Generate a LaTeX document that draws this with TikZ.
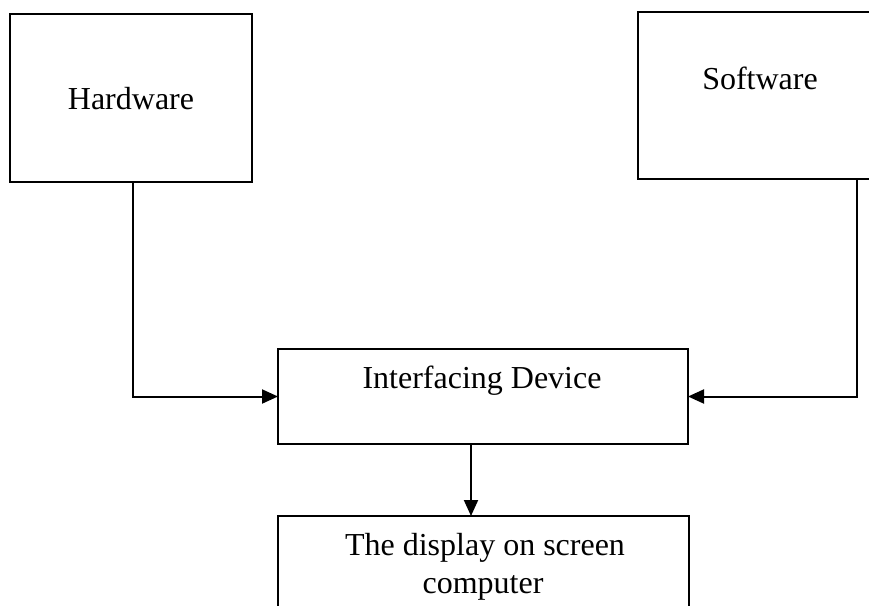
\documentclass[tikz,border=0pt]{standalone}
\usepackage{fontspec}
\setmainfont{Liberation Serif}
\usetikzlibrary{arrows.meta}
\tikzset{
  box/.style={draw, line width=2pt, inner sep=0pt, outer sep=0pt},
  lbl/.style={anchor=base, inner sep=0pt, font=\fontsize{32}{35}\selectfont},
  conn/.style={line width=2pt, -{Triangle[length=16pt,width=14pt]}}
}
\begin{document}
\begin{tikzpicture}[x=1pt,y=-1pt]
\useasboundingbox (0,0) rectangle (869,605);
\fill[white] (0,0) rectangle (869,605);
\clip (0,0) rectangle (869,605);
% boxes
\node[box, minimum width=242pt, minimum height=168pt] (hw) at (131,98) {};
\node[box, minimum width=262pt, minimum height=167pt] (sw) at (769,95.5) {};
\node[box, minimum width=410pt, minimum height=95pt] (inter) at (483,396.5) {};
\node[box, minimum width=411pt, minimum height=124pt] (disp) at (483.5,578) {};
% labels
\node[lbl] (hwt) at (131,109) {Hardware};
\node[lbl] (swt) at (760,89) {Software};
\node[lbl] (intt) at (482,388) {Interfacing Device};
\node[lbl] (dispt1) at (485,555) {The display on screen};
\node[lbl] (dispt2) at (483,593) {computer};
% connectors
\coordinate (hwout) at (133,182);
\coordinate (swout) at (857,179);
\coordinate (intout) at (471,444);
\draw[conn] (hwout) |- (inter.west);
\draw[conn] (swout) |- (inter.east);
\draw[conn] (intout) -- (intout |- disp.north);
\end{tikzpicture}
\end{document}
